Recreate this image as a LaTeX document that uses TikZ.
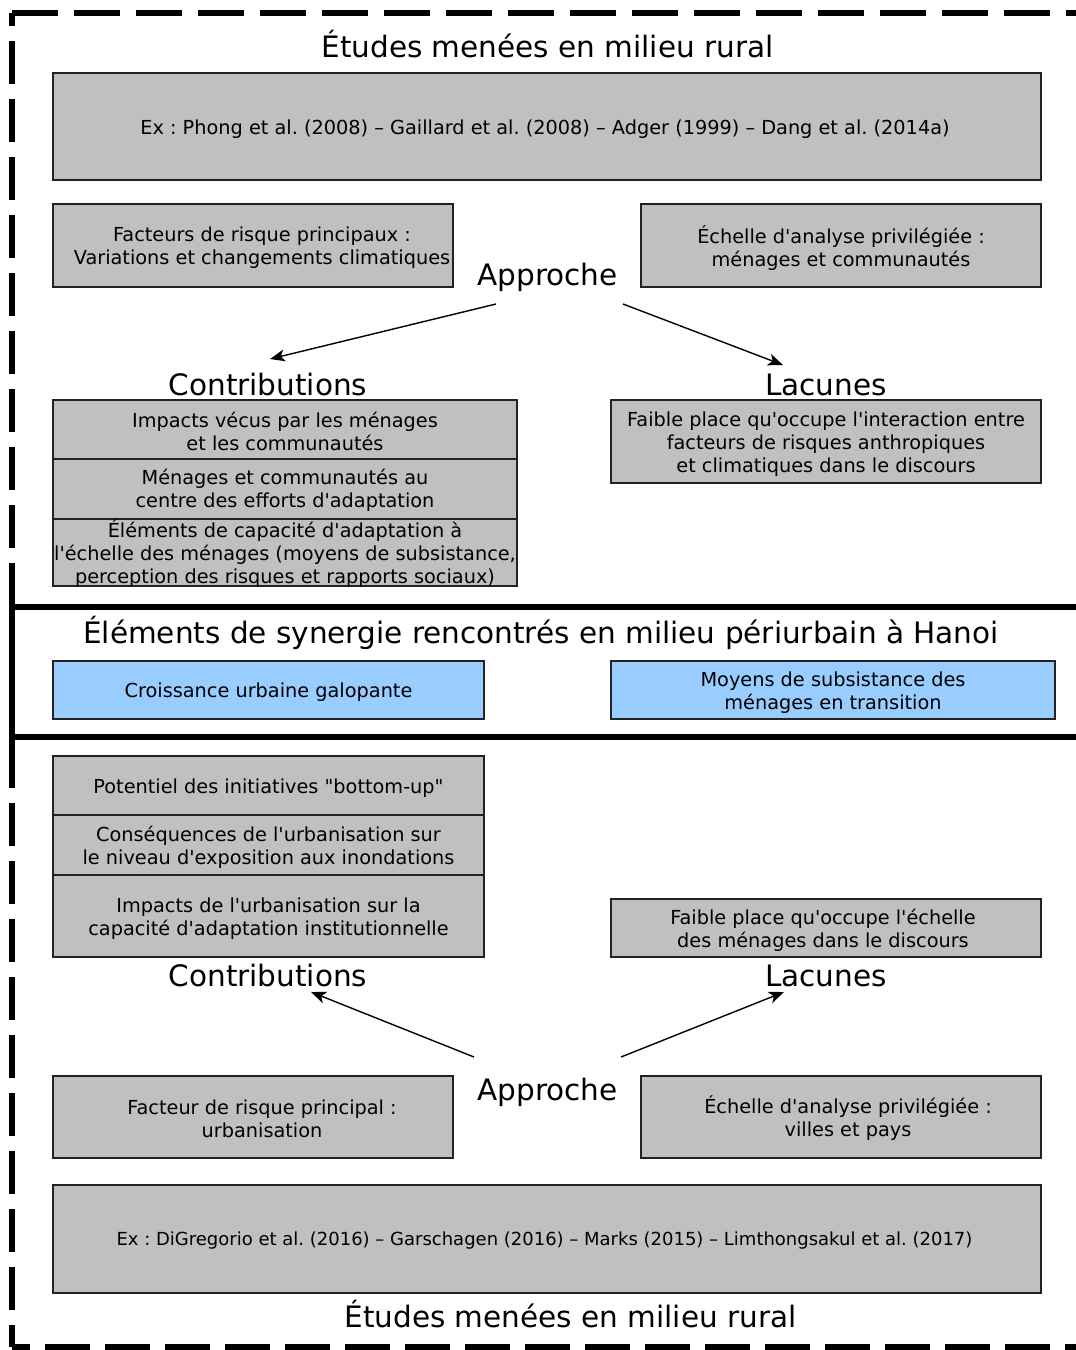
\documentclass[tikz,border=0pt]{standalone}
\usepackage{fontspec}
\setmainfont{DejaVu Sans}[Ligatures=TeXOff]
\usetikzlibrary{arrows.meta}
\definecolor{boxgray}{HTML}{C0C0C0}
\definecolor{boxblue}{HTML}{99CCFF}
\definecolor{edge}{HTML}{222222}
\frenchspacing
\begin{document}
\begin{tikzpicture}[x=1pt,y=-1pt,
  box/.style={draw=edge, line width=1.3pt, fill=boxgray, inner sep=0pt},
  bluebox/.style={box, fill=boxblue},
  boxtext/.style={inner sep=0pt, align=center, font=\fontsize{19.3}{23}\selectfont},
  heading/.style={inner sep=0pt, anchor=base, font=\fontsize{29.5}{35}\selectfont},
  hframe/.style={line width=6pt, dash pattern=on 46pt off 16pt},
  vframe/.style={line width=6pt, dash pattern=on 43pt off 15pt},
  band/.style={line width=6pt},
  link/.style={line width=1.4pt, -{Stealth[length=15pt,width=12pt,inset=4pt]}}
]
\useasboundingbox (0,0) rectangle (1076,1350);

% outer frame: dashed upper and lower parts, solid band in the middle
\coordinate (tl) at (12,13);
\coordinate (tr) at (1090,13);
\coordinate (bl) at (12,1347);
\coordinate (br) at (1090,1347);
\coordinate (ls) at (12,573);
\coordinate (le) at (12,778);
\coordinate (b1l) at (12,607);
\coordinate (b1r) at (1090,607);
\coordinate (b2l) at (12,737);
\coordinate (b2r) at (1090,737);
\draw[hframe] (tl) -- (tr);
\draw[vframe, dash phase=30pt] (tl) -- (ls);
\draw[hframe, dash pattern=on 45pt off 15pt, dash phase=27pt] (bl) -- (br);
\draw[vframe, dash phase=21pt] (bl) -- (le);
\draw[band] (ls) -- (le);
\draw[band] (b1l) -- (b1r);
\draw[band] (b2l) -- (b2r);

% upper part
\node[heading] (title1) at (547.5,57) {Études menées en milieu rural};
\node[box, minimum width=988pt, minimum height=107pt] (ex1) at (547,126.5) {};
\node[boxtext] (ex1txt) at ([xshift=-2pt,yshift=-2.5pt]ex1.center)
  {Ex : Phong et al. (2008) – Gaillard et al. (2008) – Adger (1999) – Dang et al. (2014a)};
\node[box, minimum width=400pt, minimum height=83pt] (risk1) at (253,245.5) {};
\node[boxtext] (risk1txt) at ([xshift=9pt,yshift=-2.5pt]risk1.center)
  {Facteurs de risque principaux :\\Variations et changements climatiques};
\node[box, minimum width=400pt, minimum height=83pt] (scale1) at (841,245.5) {};
\node[boxtext] (scale1txt) at ([yshift=-2.5pt]scale1.center)
  {Échelle d'analyse privilégiée :\\ménages et communautés};
\node[heading] (appr1) at (547.5,285) {Approche};
\node[heading] (contr1) at (268,395) {Contributions};
\node[heading] (lac1) at (826,395) {Lacunes};

\node[box, minimum width=464pt, minimum height=59pt] (c1a) at (285,429.5) {};
\node[boxtext] (c1atxt) at ([yshift=-1.5pt]c1a.center)
  {Impacts vécus par les ménages\\et les communautés};
\node[box, minimum width=464pt, minimum height=60pt] (c1b) at (285,489) {};
\node[boxtext] (c1btxt) at ([yshift=-1.5pt]c1b.center)
  {Ménages et communautés au\\centre des efforts d'adaptation};
\node[box, minimum width=464pt, minimum height=67pt] (c1c) at (285,552.5) {};
\node[boxtext] (c1ctxt) at ([yshift=-1.5pt]c1c.center)
  {Éléments de capacité d'adaptation à\\l'échelle des ménages (moyens de subsistance,\\perception des risques et rapports sociaux)};
\node[box, minimum width=430pt, minimum height=83pt] (g1) at (826,441.5) {};
\node[boxtext] (g1txt) at ([yshift=-2.5pt]g1.center)
  {Faible place qu'occupe l'interaction entre\\facteurs de risques anthropiques\\et climatiques dans le discours};

\coordinate (a1s) at (496,304);
\coordinate (a1e) at (270,359);
\coordinate (a2s) at (623,304);
\coordinate (a2e) at (783,365);
\draw[link] (a1s) -- (a1e);
\draw[link] (a2s) -- (a2e);

% middle band
\node[heading] (title2) at (541,643) {Éléments de synergie rencontrés en milieu périurbain à Hanoi};
\node[bluebox, minimum width=431pt, minimum height=58pt] (s1) at (268.5,690) {};
\node[boxtext] (s1txt) at ([yshift=-2.5pt]s1.center) {Croissance urbaine galopante};
\node[bluebox, minimum width=444pt, minimum height=58pt] (s2) at (833,690) {};
\node[boxtext] (s2txt) at ([yshift=-2.5pt]s2.center)
  {Moyens de subsistance des\\ménages en transition};

% lower part
\node[box, minimum width=431pt, minimum height=59pt] (c2a) at (268.5,785.5) {};
\node[boxtext] (c2atxt) at ([yshift=-2.5pt]c2a.center) {Potentiel des initiatives "bottom-up"};
\node[box, minimum width=431pt, minimum height=60pt] (c2b) at (268.5,845) {};
\node[boxtext] (c2btxt) at ([yshift=-2.5pt]c2b.center)
  {Conséquences de l'urbanisation sur\\le niveau d'exposition aux inondations};
\node[box, minimum width=431pt, minimum height=82pt] (c2c) at (268.5,916) {};
\node[boxtext] (c2ctxt) at ([yshift=-2.5pt]c2c.center)
  {Impacts de l'urbanisation sur la\\capacité d'adaptation institutionnelle};
\node[box, minimum width=430pt, minimum height=58pt] (g2) at (826,928) {};
\node[boxtext] (g2txt) at ([xshift=-3pt,yshift=-2.5pt]g2.center)
  {Faible place qu'occupe l'échelle\\des ménages dans le discours};
\node[heading] (contr2) at (268,986) {Contributions};
\node[heading] (lac2) at (826,986) {Lacunes};
\node[heading] (appr2) at (547.5,1100) {Approche};

\coordinate (a3s) at (474,1057);
\coordinate (a3e) at (311,992);
\coordinate (a4s) at (621,1057);
\coordinate (a4e) at (784,992);
\draw[link] (a3s) -- (a3e);
\draw[link] (a4s) -- (a4e);

\node[box, minimum width=400pt, minimum height=82pt] (risk2) at (253,1117) {};
\node[boxtext] (risk2txt) at ([xshift=9pt,yshift=-1.5pt]risk2.center)
  {Facteur de risque principal :\\urbanisation};
\node[box, minimum width=400pt, minimum height=82pt] (scale2) at (841,1117) {};
\node[boxtext] (scale2txt) at ([xshift=7pt,yshift=-1.5pt]scale2.center)
  {Échelle d'analyse privilégiée :\\villes et pays};
\node[box, minimum width=988pt, minimum height=108pt] (ex2) at (547,1239) {};
\node[boxtext, font=\fontsize{18}{22}\selectfont] (ex2txt) at ([xshift=-2.5pt,yshift=-1.5pt]ex2.center)
  {Ex : DiGregorio et al. (2016) – Garschagen (2016) – Marks (2015) – Limthongsakul et al. (2017)};
\node[heading] (title3) at (570.5,1327) {Études menées en milieu rural};
\end{tikzpicture}
\end{document}
